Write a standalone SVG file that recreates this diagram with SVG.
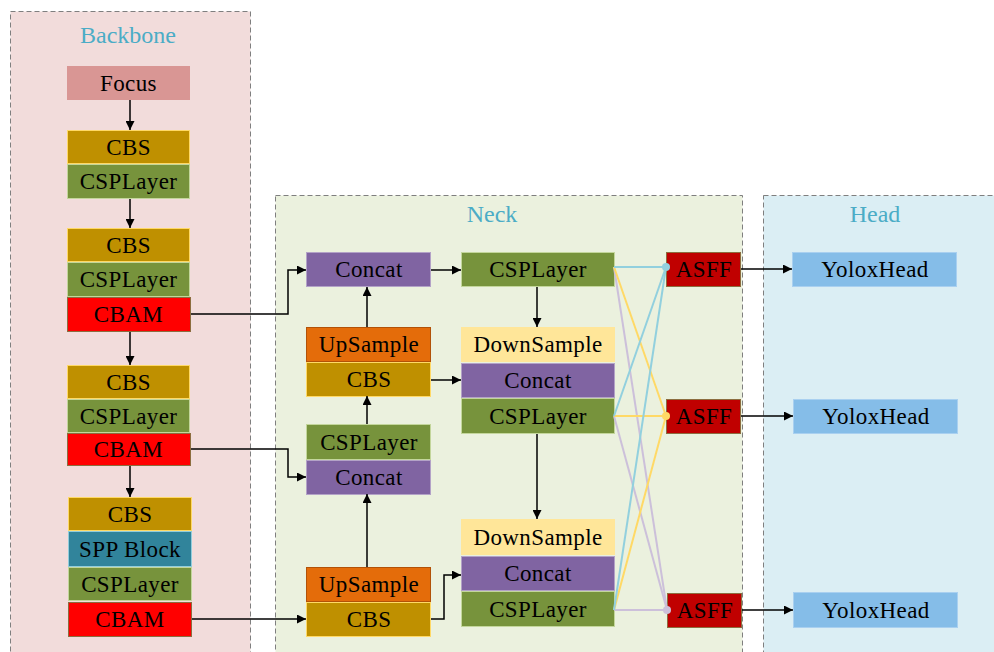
<svg xmlns="http://www.w3.org/2000/svg" width="994" height="652" viewBox="0 0 994 652">
  <defs>
    <marker id="arrow" viewBox="0 0 10 10" refX="10" refY="5" markerWidth="9" markerHeight="9" markerUnits="userSpaceOnUse" orient="auto">
      <path d="M0,0 L10,5 L0,10 z" fill="#000"/>
    </marker>
    <style>
      .panel { stroke: #7f7f7f; stroke-width: 1; stroke-dasharray: 5 3; }
      .title { font-family: "Liberation Serif", "Times New Roman", serif; font-size: 24px; fill: #4bacc6; text-anchor: middle; }
      .lbl { font-family: "Liberation Serif", "Times New Roman", serif; font-size: 23px; letter-spacing: 0.4px; fill: #000; text-anchor: middle; }
      .focus { fill: #d99694; }
      .cbs { fill: #bf9000; stroke: #ffd966; stroke-width: 1; }
      .csp { fill: #77933c; stroke: #c3d69b; stroke-width: 1; }
      .cbam { fill: #ff0000; stroke: #8c6d3f; stroke-width: 1; }
      .spp { fill: #31849b; stroke: #92cddc; stroke-width: 1; }
      .concat { fill: #8064a2; stroke: #b3a2c7; stroke-width: 1; }
      .up { fill: #e46c0a; stroke: #b25208; stroke-width: 1; }
      .down { fill: #ffe699; }
      .asff { fill: #c00000; stroke: #8c6d3f; stroke-width: 1; }
      .head { fill: #85bde8; stroke: #a9d0f0; stroke-width: 1; }
      .wire { fill: none; stroke: #000; stroke-width: 1.5; }
      .cy { fill: none; stroke: #92d0de; stroke-width: 2; }
      .yl { fill: none; stroke: #ffd966; stroke-width: 2; }
      .lv { fill: none; stroke: #ccc0da; stroke-width: 2; }
    </style>
  </defs>

  <rect width="994" height="652" fill="#fff"/>

  <!-- panels -->
  <g id="backbone">
    <rect class="panel" x="10.5" y="11.5" width="240" height="660" fill="#f2dcdb"/>
    <text class="title" x="128" y="43">Backbone</text>
  </g>
  <g id="neck">
    <rect class="panel" x="275.5" y="195.5" width="467" height="480" fill="#ebf1de"/>
    <text class="title" x="492" y="222">Neck</text>
  </g>
  <g id="head">
    <rect class="panel" x="763.5" y="195.5" width="250" height="480" fill="#dbeef4"/>
    <text class="title" x="875" y="222">Head</text>
  </g>

  <!-- backbone stages -->
  <g id="focus">
    <rect class="focus" x="67" y="66" width="123" height="34"/>
    <text class="lbl" x="128.5" y="91">Focus</text>
  </g>
  <g id="stage1">
    <rect class="cbs" x="67.5" y="130.5" width="122" height="33"/>
    <text class="lbl" x="128.5" y="155">CBS</text>
    <rect class="csp" x="67.5" y="164.5" width="122" height="34"/>
    <text class="lbl" x="128.5" y="189">CSPLayer</text>
  </g>
  <g id="stage2">
    <rect class="cbs" x="67.5" y="228.5" width="122" height="33"/>
    <text class="lbl" x="128.5" y="253">CBS</text>
    <rect class="csp" x="67.5" y="262.5" width="122" height="34"/>
    <text class="lbl" x="128.5" y="287">CSPLayer</text>
    <rect class="cbam" x="67.5" y="297.5" width="123" height="34"/>
    <text class="lbl" x="128.5" y="322">CBAM</text>
  </g>
  <g id="stage3">
    <rect class="cbs" x="67.5" y="365.5" width="122" height="33"/>
    <text class="lbl" x="128.5" y="390">CBS</text>
    <rect class="csp" x="67.5" y="399.5" width="122" height="33"/>
    <text class="lbl" x="128.5" y="424">CSPLayer</text>
    <rect class="cbam" x="67.5" y="433.5" width="123" height="32"/>
    <text class="lbl" x="128.5" y="457">CBAM</text>
  </g>
  <g id="stage4">
    <rect class="cbs" x="68.5" y="497.5" width="123" height="33"/>
    <text class="lbl" x="130" y="522">CBS</text>
    <rect class="spp" x="68.5" y="531.5" width="123" height="35"/>
    <text class="lbl" x="130" y="557">SPP Block</text>
    <rect class="csp" x="68.5" y="567.5" width="123" height="33"/>
    <text class="lbl" x="130" y="592">CSPLayer</text>
    <rect class="cbam" x="68.5" y="602.5" width="123" height="34"/>
    <text class="lbl" x="130" y="627">CBAM</text>
  </g>

  <!-- neck, top-down path -->
  <g id="concat-p5">
    <rect class="concat" x="306.5" y="252.5" width="124" height="34"/>
    <text class="lbl" x="369" y="277">Concat</text>
  </g>
  <g id="up-cbs-1">
    <rect class="up" x="306.5" y="327.5" width="124" height="34"/>
    <text class="lbl" x="369" y="352">UpSample</text>
    <rect class="cbs" x="306.5" y="362.5" width="124" height="34"/>
    <text class="lbl" x="369" y="387">CBS</text>
  </g>
  <g id="csp-concat-p4">
    <rect class="csp" x="306.5" y="424.5" width="124" height="35"/>
    <text class="lbl" x="369" y="450">CSPLayer</text>
    <rect class="concat" x="306.5" y="460.5" width="124" height="34"/>
    <text class="lbl" x="369" y="485">Concat</text>
  </g>
  <g id="up-cbs-2">
    <rect class="up" x="306.5" y="567.5" width="124" height="34"/>
    <text class="lbl" x="369" y="592">UpSample</text>
    <rect class="cbs" x="306.5" y="602.5" width="124" height="34"/>
    <text class="lbl" x="369" y="627">CBS</text>
  </g>

  <!-- neck, bottom-up path -->
  <g id="csp-out-1">
    <rect class="csp" x="461.5" y="252.5" width="153" height="34"/>
    <text class="lbl" x="538" y="277">CSPLayer</text>
  </g>
  <g id="pan-2">
    <rect class="down" x="461" y="327" width="154" height="35"/>
    <text class="lbl" x="538" y="352">DownSample</text>
    <rect class="concat" x="461.5" y="363.5" width="153" height="34"/>
    <text class="lbl" x="538" y="388">Concat</text>
    <rect class="csp" x="461.5" y="398.5" width="153" height="35"/>
    <text class="lbl" x="538" y="424">CSPLayer</text>
  </g>
  <g id="pan-3">
    <rect class="down" x="461" y="519" width="154" height="36"/>
    <text class="lbl" x="538" y="545">DownSample</text>
    <rect class="concat" x="461.5" y="556.5" width="153" height="34"/>
    <text class="lbl" x="538" y="581">Concat</text>
    <rect class="csp" x="461.5" y="591.5" width="153" height="35"/>
    <text class="lbl" x="538" y="617">CSPLayer</text>
  </g>

  <!-- adaptive fusion -->
  <g id="asff-1">
    <rect class="asff" x="666.5" y="252.5" width="74" height="34"/>
    <text class="lbl" x="704" y="277">ASFF</text>
  </g>
  <g id="asff-2">
    <rect class="asff" x="666.5" y="399.5" width="74" height="34"/>
    <text class="lbl" x="704" y="424">ASFF</text>
  </g>
  <g id="asff-3">
    <rect class="asff" x="667.5" y="593.5" width="74" height="34"/>
    <text class="lbl" x="705" y="618">ASFF</text>
  </g>

  <!-- heads -->
  <g id="head-1">
    <rect class="head" x="792.5" y="252.5" width="164" height="34"/>
    <text class="lbl" x="875" y="277">YoloxHead</text>
  </g>
  <g id="head-2">
    <rect class="head" x="793.5" y="399.5" width="164" height="34"/>
    <text class="lbl" x="876" y="424">YoloxHead</text>
  </g>
  <g id="head-3">
    <rect class="head" x="793.5" y="592.5" width="164" height="35"/>
    <text class="lbl" x="876" y="618">YoloxHead</text>
  </g>

  <g id="connectors">
    <!-- backbone flow -->
    <line class="wire" x1="130" y1="100" x2="130" y2="130" marker-end="url(#arrow)"/>
    <line class="wire" x1="130" y1="199" x2="130" y2="228" marker-end="url(#arrow)"/>
    <line class="wire" x1="130" y1="332" x2="130" y2="365" marker-end="url(#arrow)"/>
    <line class="wire" x1="130" y1="466" x2="130" y2="497" marker-end="url(#arrow)"/>

    <!-- backbone to neck -->
    <polyline class="wire" points="191,314 288,314 288,270 306,270" marker-end="url(#arrow)"/>
    <polyline class="wire" points="191,449 288,449 288,477 306,477" marker-end="url(#arrow)"/>
    <line class="wire" x1="192" y1="619" x2="306" y2="619" marker-end="url(#arrow)"/>

    <!-- top-down path -->
    <line class="wire" x1="367" y1="567" x2="367" y2="494" marker-end="url(#arrow)"/>
    <line class="wire" x1="367" y1="424" x2="367" y2="396" marker-end="url(#arrow)"/>
    <line class="wire" x1="367" y1="327" x2="367" y2="287" marker-end="url(#arrow)"/>

    <!-- lateral links -->
    <line class="wire" x1="431" y1="270" x2="461" y2="270" marker-end="url(#arrow)"/>
    <line class="wire" x1="431" y1="380" x2="461" y2="380" marker-end="url(#arrow)"/>
    <polyline class="wire" points="431,619 444,619 444,575 461,575" marker-end="url(#arrow)"/>

    <!-- bottom-up path -->
    <line class="wire" x1="537" y1="287" x2="537" y2="327" marker-end="url(#arrow)"/>
    <line class="wire" x1="537" y1="434" x2="537" y2="519" marker-end="url(#arrow)"/>

    <!-- fusion links -->
    <line class="lv" x1="614" y1="267" x2="667" y2="610"/>
    <line class="lv" x1="614" y1="416" x2="667" y2="610"/>
    <line class="lv" x1="614" y1="610" x2="667" y2="610"/>
    <line class="yl" x1="614" y1="267" x2="666" y2="416"/>
    <line class="yl" x1="614" y1="416" x2="666" y2="416"/>
    <line class="yl" x1="614" y1="610" x2="666" y2="416"/>
    <line class="cy" x1="614" y1="267" x2="666" y2="267"/>
    <line class="cy" x1="614" y1="416" x2="666" y2="267"/>
    <line class="cy" x1="614" y1="610" x2="666" y2="267"/>
    <circle cx="666" cy="267" r="4" fill="#92d0de"/>
    <circle cx="666" cy="416" r="4" fill="#ffd966"/>
    <circle cx="667" cy="610" r="4" fill="#ccc0da"/>

    <!-- fusion to heads -->
    <line class="wire" x1="741" y1="269" x2="792" y2="269" marker-end="url(#arrow)"/>
    <line class="wire" x1="741" y1="416" x2="793" y2="416" marker-end="url(#arrow)"/>
    <line class="wire" x1="742" y1="610" x2="793" y2="610" marker-end="url(#arrow)"/>
  </g>
</svg>
